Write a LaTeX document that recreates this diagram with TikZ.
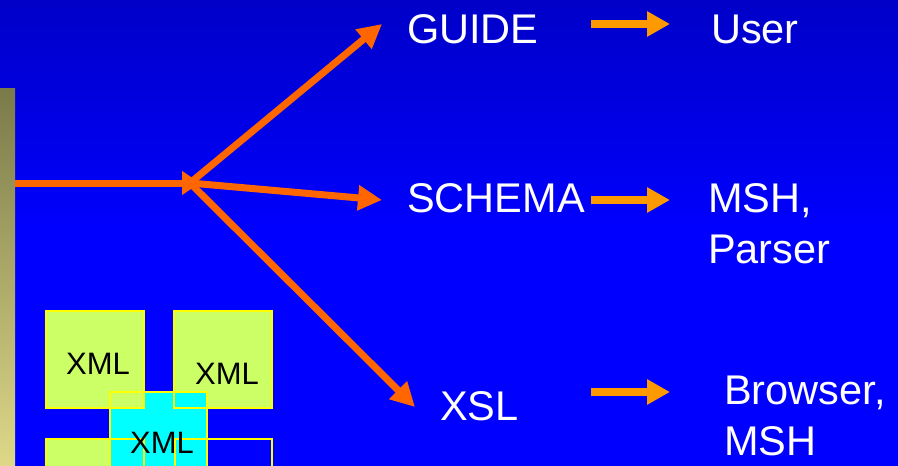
\documentclass[tikz,border=0pt]{standalone}
\usepackage{fontspec}
\setmainfont{Liberation Sans}
\usetikzlibrary{arrows.meta}
\definecolor{bgtop}{RGB}{0,0,200}
\definecolor{bgbot}{RGB}{0,0,255}
\definecolor{darr}{RGB}{255,102,0}
\definecolor{larr}{RGB}{255,153,0}
\definecolor{lime}{RGB}{204,255,102}
\definecolor{aqua}{RGB}{0,255,255}
\definecolor{ylw}{RGB}{255,255,0}
\definecolor{barA}{RGB}{122,122,74}
\definecolor{barB}{RGB}{255,255,153}
\definecolor{barC}{RGB}{222,216,136}
\tikzset{
  bigtxt/.style={text=white,font=\fontsize{41.5}{51}\selectfont,inner sep=0pt,anchor=base west,align=left},
  xmltxt/.style={text=black,font=\fontsize{31}{31}\selectfont,inner sep=0pt},
  mainarr/.style={draw=darr,line width=7pt,-{Triangle[length=24pt,width=24pt]}},
  smallarr/.style={draw=larr,line width=8pt,-{Triangle[length=23pt,width=24pt]}},
  boxline/.style={draw=ylw,line width=1.5pt}
}
\begin{document}
\begin{tikzpicture}[x=1pt,y=-1pt]
\useasboundingbox (0,0) rectangle (898,466);
% background
\shade[top color=bgtop,bottom color=bgbot,middle color=bgbot] (0,0) rectangle (898,466);
% left bar
\shade[top color=barA,middle color=barB,bottom color=barC] (0,88) rectangle (15,466);
% XML boxes: fills
\fill[lime] (174,311) rectangle (272,408);
\fill[lime] (46,439) rectangle (144,470);
\fill[aqua] (110,392) rectangle (207,470);
\fill[lime] (46,311) rectangle (144,408);
% outlines
\draw[boxline] (174,311) rectangle (272,408);
\draw[boxline] (46,439) rectangle (144,470);
\draw[boxline] (175,439) rectangle (272,470);
\draw[boxline] (110,392) rectangle (207,470);
\draw[boxline] (46,311) rectangle (144,408);
\node[xmltxt] (x1) at (98,364) {XML};
\node[xmltxt] (x2) at (227,374) {XML};
\node[xmltxt] (x3) at (162,443) {XML};
% coordinates
\coordinate (start) at (15,183);
\coordinate (hubtip) at (200,183);
\coordinate (hub) at (190,183);
\coordinate (tg) at (382,24);
\coordinate (ts) at (382,200);
\coordinate (tx) at (415,407);
% main arrows
\draw[mainarr,-{Triangle[length=18pt,width=23pt]}] (start) -- (hubtip);
\draw[mainarr] (hub) -- (tg);
\draw[mainarr] (hub) -- (ts);
\draw[mainarr] (hub) -- (tx);
% texts
\node[bigtxt] (guide) at (407,43) {GUIDE};
\node[bigtxt] (schema) at (407,212) {SCHEMA};
\node[bigtxt] (xsl) at (440,420) {XSL};
\node[bigtxt] (user) at (711,43) {User};
\node[bigtxt] (msh) at (708,263) {MSH,\\Parser};
\node[bigtxt] (browser) at (724,455) {Browser,\\MSH};
% small arrows
\coordinate (a1) at (591,24); \coordinate (b1) at (670,24);
\coordinate (a2) at (591,200); \coordinate (b2) at (670,200);
\coordinate (a3) at (591,392); \coordinate (b3) at (670,392);
\draw[smallarr] (a1) -- (b1);
\draw[smallarr] (a2) -- (b2);
\draw[smallarr] (a3) -- (b3);
\end{tikzpicture}
\end{document}
